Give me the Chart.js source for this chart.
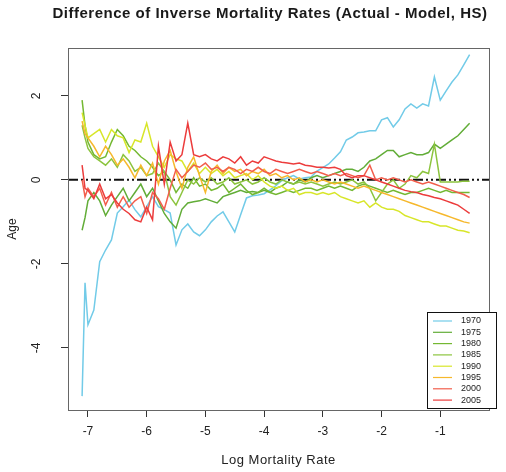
<!DOCTYPE html>
<html>
<head>
<meta charset="utf-8">
<script src="https://cdn.jsdelivr.net/npm/chart.js@4.4.1/dist/chart.umd.min.js"></script>
<style>
  body { margin: 0; background: #fff; }
  #wrap { width: 506px; height: 472px; }
</style>
</head>
<body>
<div id="wrap"><canvas id="mortChart"></canvas></div>
<script>
// log mortality rate (x) shared by all series
const logRates = [-7.1, -7.05, -7.0, -6.9, -6.8, -6.7, -6.6, -6.5, -6.4, -6.3, -6.2, -6.1, -6.0,
  -5.9, -5.8, -5.7, -5.6, -5.5, -5.4, -5.3, -5.2, -5.1, -5.0, -4.9, -4.8, -4.7, -4.6, -4.5,
  -4.4, -4.3, -4.2, -4.1, -4.0, -3.9, -3.8, -3.7, -3.6, -3.5, -3.4, -3.3, -3.2, -3.1, -3.0,
  -2.9, -2.8, -2.7, -2.6, -2.5, -2.4, -2.3, -2.2, -2.1, -2.0, -1.9, -1.8, -1.7, -1.6, -1.5,
  -1.4, -1.3, -1.2, -1.1, -1.0, -0.9, -0.8, -0.7, -0.6, -0.5];

const years = ["1970", "1975", "1980", "1985", "1990", "1995", "2000", "2005"];
const colors = ["#72cbe8", "#62ad38", "#74b832", "#8cc43e", "#d8e62a", "#f6b82c", "#f25e4c", "#ec3c3c"];

const y1970 = [-5.15, -2.45, -3.45, -3.1, -1.95, -1.67, -1.43, -0.79, -0.64, -0.48, -0.71, -0.88, -0.64,
  -0.4, -0.64, -0.71, -0.79, -1.55, -1.19, -1.05, -1.24, -1.33, -1.19, -1.0, -0.86, -0.76, -1.0, -1.24,
  -0.83, -0.43, -0.38, -0.36, -0.33, -0.24, -0.14, -0.02, 0.05, 0.1, 0.02, 0.05, 0.07, 0.21, 0.29,
  0.38, 0.52, 0.67, 0.95, 1.02, 1.12, 1.14, 1.17, 1.17, 1.43, 1.48, 1.26, 1.43, 1.69, 1.81,
  1.71, 1.81, 1.76, 2.45, 1.9, 2.12, 2.33, 2.5, 2.74, 2.98];

const y1975 = [-1.2, -0.9, -0.5, -0.3, -0.5, -0.85, -0.6, -0.4, -0.2, -0.5, -0.3, -0.1, -0.4,
  -0.2, -0.5, -0.8, -1.0, -1.15, -0.7, -0.55, -0.52, -0.5, -0.45, -0.5, -0.55, -0.4, -0.35, -0.3,
  -0.25, -0.3, -0.28, -0.3, -0.25, -0.3, -0.2, -0.15, -0.05, -0.1, 0.0, -0.05, 0.05, 0.1, 0.05,
  0.1, 0.15, 0.2, 0.25, 0.25, 0.2, 0.3, 0.45, 0.5, 0.6, 0.7, 0.7, 0.55, 0.6, 0.65,
  0.6, 0.6, 0.65, 0.85, 0.75, 0.85, 0.95, 1.05, 1.2, 1.35];

const y1980 = [1.9, 1.3, 0.9, 0.6, 0.5, 0.55, 0.9, 1.2, 1.05, 0.8, 0.7, 0.55, 0.45,
  0.3, 0.1, 0.2, 0.0, -0.3, -0.1, -0.2, 0.05, -0.15, -0.1, -0.25, -0.2, -0.1, -0.3, -0.2,
  -0.1, -0.25, -0.35, -0.3, -0.2, -0.3, -0.35, -0.3, -0.25, -0.3, -0.25, -0.2, -0.2, -0.25, -0.2,
  -0.15, -0.2, -0.15, -0.2, -0.25, -0.15, -0.1, -0.15, -0.2, -0.25, -0.3, -0.25, -0.3, -0.35, -0.3,
  -0.3, -0.25, -0.2, -0.25, -0.3, -0.25, -0.3, -0.3, -0.3, -0.3];

const y1985 = [1.3, 1.0, 0.75, 0.55, 0.45, 0.35, 0.5, 0.3, 0.6, 0.45, 0.2, 0.3, 0.1,
  0.15, 0.4, 0.2, -0.4, -0.6, -0.3, 0.0, -0.1, 0.05, -0.05, 0.05, -0.1, -0.05, 0.05, -0.1,
  -0.05, 0.0, -0.1, -0.05, 0.05, -0.05, -0.1, 0.0, -0.05, -0.1, -0.05, -0.1, -0.05, -0.1, -0.15,
  -0.1, -0.05, -0.1, -0.05, 0.0, -0.1, -0.05, -0.2, -0.5, -0.3, -0.1, 0.0, -0.2, -0.1, 0.1,
  0.05, 0.2, 0.15, 0.85, -0.05, -0.05, -0.05, -0.05, -0.03, -0.03];

const y1990 = [1.6, 1.3, 1.0, 1.1, 1.2, 0.9, 1.2, 1.05, 1.0, 0.65, 0.95, 0.9, 1.35,
  0.8, 0.55, 0.3, 0.6, 0.5, 0.45, 0.2, 0.4, 0.15, 0.3, 0.15, 0.25, 0.1, 0.2, 0.05,
  0.1, 0.15, 0.0, 0.1, -0.05, -0.15, -0.2, -0.15, -0.25, -0.2, -0.35, -0.3, -0.3, -0.35, -0.3,
  -0.35, -0.3, -0.4, -0.45, -0.5, -0.55, -0.5, -0.65, -0.55, -0.65, -0.7, -0.7, -0.75, -0.85, -0.9,
  -0.95, -1.0, -1.0, -1.05, -1.1, -1.1, -1.15, -1.2, -1.22, -1.26];

const y1995 = [1.4, 1.1, 1.0, 0.8, 0.55, 0.8, 0.6, 0.35, 0.5, 0.3, 0.05, 0.35, 0.1,
  0.4, -0.1, 0.45, 0.7, 0.2, -0.2, 0.3, 0.55, 0.1, -0.3, 0.2, 0.35, 0.15, 0.3, 0.2,
  0.25, 0.1, 0.2, 0.15, 0.25, 0.1, 0.15, 0.05, 0.1, 0.0, 0.05, -0.05, 0.0, -0.05, 0.0,
  -0.05, -0.1, -0.05, -0.1, -0.15, -0.2, -0.15, -0.2, -0.25, -0.3, -0.35, -0.4, -0.45, -0.5, -0.55,
  -0.6, -0.65, -0.7, -0.75, -0.8, -0.85, -0.9, -0.95, -1.0, -1.03];

const y2000 = [0.0, -0.4, -0.2, -0.4, -0.2, -0.6, -0.3, -0.65, -0.4, -0.65, -0.5, -0.4, -0.8,
  -0.3, -0.45, -0.7, -0.2, 0.25, 0.05, 0.2, 0.35, 0.3, 0.4, 0.25, 0.3, 0.2, 0.3, 0.25,
  0.15, 0.25, 0.2, 0.3, 0.2, 0.15, 0.25, 0.2, 0.15, 0.2, 0.25, 0.2, 0.15, 0.2, 0.15,
  0.1, 0.15, 0.1, 0.15, 0.1, 0.05, 0.1, 0.35, 0.0, 0.05, 0.0, 0.05, 0.0, -0.05, 0.0,
  -0.05, -0.1, -0.05, -0.1, -0.15, -0.2, -0.25, -0.3, -0.35, -0.42];

const y2005 = [0.35, -0.2, -0.25, -0.45, -0.1, -0.45, -0.35, -0.55, -0.7, -0.8, -0.95, -1.0, -0.65,
  -0.95, 0.8, -0.1, 0.9, 0.45, 0.6, 1.35, 0.6, 0.55, 0.6, 0.5, 0.45, 0.55, 0.5, 0.4,
  0.55, 0.35, 0.45, 0.4, 0.55, 0.5, 0.45, 0.42, 0.4, 0.38, 0.4, 0.35, 0.33, 0.3, 0.3,
  0.28, 0.3, 0.25, 0.1, 0.05, 0.1, 0.1, 0.05, 0.0, -0.05, -0.1, -0.15, -0.2, -0.25, -0.28,
  -0.3, -0.35, -0.38, -0.42, -0.45, -0.5, -0.55, -0.6, -0.7, -0.8];

const seriesList = [y1970, y1975, y1980, y1985, y1990, y1995, y2000, y2005];
const xTicks = [-7, -6, -5, -4, -3, -2, -1];
const yTicks = [-4, -2, 0, 2];

const FONT = "'Liberation Sans', Arial, sans-serif";

const datasets = seriesList.map((ys, i) => ({
  label: years[i],
  data: logRates.map((x, j) => ({ x: x, y: ys[j] })),
  borderColor: colors[i],
  backgroundColor: colors[i],
  borderWidth: 1.5,
  pointRadius: 0,
  tension: 0,
  fill: false,
  order: seriesList.length - i
}));

// R-style extras: box, zero line, rotated y labels, titles, legend
const rDecor = {
  id: "rDecor",
  beforeDatasetsDraw(chart) {
    const { ctx, chartArea: a, scales } = chart;
    const y0 = scales.y.getPixelForValue(0);
    ctx.save();
    ctx.strokeStyle = "#111";
    ctx.lineWidth = 2;
    ctx.setLineDash([10, 3, 2, 3, 2, 3]);
    ctx.beginPath();
    ctx.moveTo(a.left, y0);
    ctx.lineTo(a.right, y0);
    ctx.stroke();
    ctx.restore();
  },
  afterDraw(chart) {
    const { ctx, chartArea: a, scales } = chart;
    ctx.save();
    ctx.strokeStyle = "#666";
    ctx.lineWidth = 1;
    ctx.strokeRect(a.left + 0.5, a.top + 0.5, a.right - a.left, a.bottom - a.top);

    ctx.fillStyle = "#222";
    ctx.font = "12px " + FONT;
    ctx.textAlign = "center";
    ctx.textBaseline = "middle";
    yTicks.forEach(v => {
      const py = scales.y.getPixelForValue(v);
      ctx.save();
      ctx.translate(37, py);
      ctx.rotate(-Math.PI / 2);
      ctx.fillText(String(v), 0, 0);
      ctx.restore();
    });

    ctx.save();
    ctx.translate(13, (a.top + a.bottom) / 2);
    ctx.rotate(-Math.PI / 2);
    ctx.fillText("Age", 0, 0);
    ctx.restore();

    ctx.font = "13px " + FONT;
    ctx.letterSpacing = "0.5px";
    ctx.fillText("Log Mortality Rate", (a.left + a.right) / 2, 460);

    ctx.font = "bold 15px " + FONT;
    ctx.letterSpacing = "0.5px";
    ctx.fillStyle = "#1a1a1a";
    ctx.fillText("Difference of Inverse Mortality Rates (Actual - Model, HS)", 270, 14);
    ctx.letterSpacing = "0px";

    // legend box
    const lx = 427, ly = 312, lw = 69, lh = 96;
    ctx.fillStyle = "#fff";
    ctx.fillRect(lx, ly, lw, lh);
    ctx.strokeStyle = "#111";
    ctx.strokeRect(lx + 0.5, ly + 0.5, lw, lh);
    ctx.font = "9px " + FONT;
    ctx.textAlign = "left";
    chart.data.datasets.forEach((ds, i) => {
      const ry = 321 + i * 11.3;
      ctx.strokeStyle = ds.borderColor;
      ctx.lineWidth = 1.2;
      ctx.beginPath();
      ctx.moveTo(433, ry);
      ctx.lineTo(452, ry);
      ctx.stroke();
      ctx.fillStyle = "#222";
      ctx.fillText(ds.label, 461, ry);
    });
    ctx.restore();
  }
};

new Chart(document.getElementById("mortChart").getContext("2d"), {
  type: "line",
  data: { datasets: datasets },
  options: {
    responsive: true,
    maintainAspectRatio: false,
    animation: false,
    layout: { padding: { top: 48, right: 17, left: 0, bottom: 0 } },
    plugins: { legend: { display: false }, tooltip: { enabled: false } },
    scales: {
      x: {
        type: "linear",
        min: -7.34,
        max: -0.17,
        afterFit: s => { s.height = 62; },
        afterBuildTicks: s => { s.ticks = xTicks.map(v => ({ value: v })); },
        ticks: { includeBounds: false, color: "#222", font: { size: 12, family: FONT }, padding: 7, maxRotation: 0 },
        grid: { drawOnChartArea: false, drawTicks: true, tickLength: 7, color: "#333" },
        border: { display: false }
      },
      y: {
        type: "linear",
        min: -5.48,
        max: 3.14,
        afterFit: s => { s.width = 68; },
        afterBuildTicks: s => { s.ticks = yTicks.map(v => ({ value: v })); },
        ticks: { display: false, includeBounds: false },
        grid: { drawOnChartArea: false, drawTicks: true, tickLength: 7, color: "#333" },
        border: { display: false }
      }
    }
  },
  plugins: [rDecor]
});
</script>
</body>
</html>
